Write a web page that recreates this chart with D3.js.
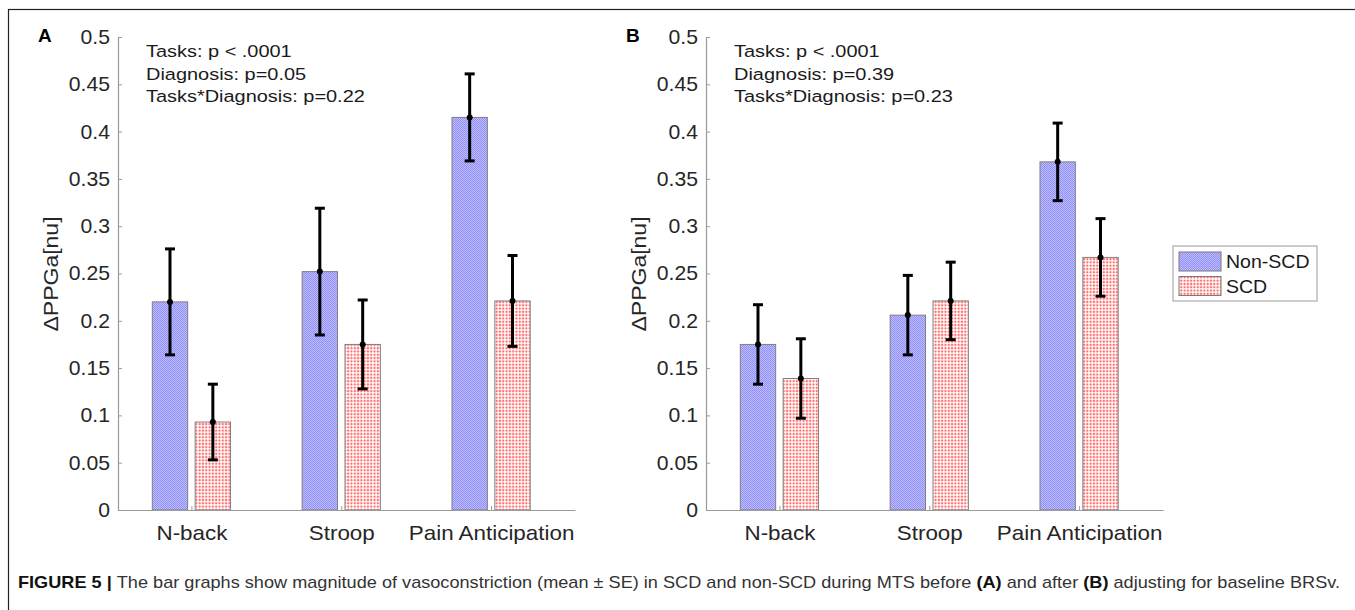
<!DOCTYPE html>
<html>
<head>
<meta charset="utf-8">
<script src="https://cdn.jsdelivr.net/npm/d3@7"></script>
<style>
  body { margin: 0; background: #fff; }
  svg { display: block; font-family: "Liberation Sans", Arial, Helvetica, sans-serif; }
</style>
</head>
<body>
<script>
const tasks = ["N-back", "Stroop", "Pain Anticipation"];
const groups = ["Non-SCD", "SCD"];

// panel A: before adjusting for baseline BRSv
const meanA_nonSCD = [0.220, 0.252, 0.415];
const seA_nonSCD = [0.056, 0.067, 0.046];
const meanA_SCD = [0.093, 0.175, 0.221];
const seA_SCD = [0.040, 0.047, 0.048];

// panel B: after adjusting
const meanB_nonSCD = [0.175, 0.206, 0.368];
const seB_nonSCD = [0.042, 0.042, 0.041];
const meanB_SCD = [0.139, 0.221, 0.267];
const seB_SCD = [0.042, 0.041, 0.041];

const yTicks = [0, 0.05, 0.1, 0.15, 0.2, 0.25, 0.3, 0.35, 0.4, 0.45, 0.5];
const yTickLabels = ["0", "0.05", "0.1", "0.15", "0.2", "0.25", "0.3", "0.35", "0.4", "0.45", "0.5"];

const statsA = ["Tasks: p < .0001", "Diagnosis: p=0.05", "Tasks*Diagnosis: p=0.22"];
const statsB = ["Tasks: p < .0001", "Diagnosis: p=0.39", "Tasks*Diagnosis: p=0.23"];

const width = 1355;
const height = 610;
const yTop = 37;
const yBottom = 510;
const axisLen = 457;
const shiftB = 588;

const svg = d3.select("body")
  .append("svg")
  .attr("width", width)
  .attr("height", height)
  .attr("viewBox", [0, 0, width, height]);

// hatch fills
const defs = svg.append("defs");
const blue = defs.append("pattern")
  .attr("id", "blueFill")
  .attr("patternUnits", "userSpaceOnUse")
  .attr("width", 2).attr("height", 2);
blue.append("rect").attr("width", 2).attr("height", 2).attr("fill", "#bcbcff");
blue.append("rect").attr("width", 1).attr("height", 1).attr("fill", "#9090f6");
blue.append("rect").attr("x", 1).attr("y", 1).attr("width", 1).attr("height", 1).attr("fill", "#9090f6");

const red = defs.append("pattern")
  .attr("id", "redFill")
  .attr("patternUnits", "userSpaceOnUse")
  .attr("width", 3.3).attr("height", 3.3);
red.append("rect").attr("width", 3.3).attr("height", 3.3).attr("fill", "#ffffff");
red.append("rect").attr("x", 1).attr("width", 1.3).attr("height", 3.3).attr("fill", "#ffcccc");
red.append("rect").attr("y", 1).attr("width", 3.3).attr("height", 1.3).attr("fill", "#ffcccc");
red.append("rect").attr("x", 1).attr("y", 1).attr("width", 1.3).attr("height", 1.3).attr("fill", "#ff3030");

const fills = ["url(#blueFill)", "url(#redFill)"];

// outer frame of the figure
svg.append("rect")
  .attr("x", 8.5).attr("y", 9.5)
  .attr("width", 1400).attr("height", 700)
  .attr("fill", "none")
  .attr("stroke", "#222")
  .attr("stroke-width", 1.2);

function stretch(sel, sx) {
  sel.attr("transform", function () {
    const x = +this.getAttribute("x") || 0;
    const y = +this.getAttribute("y") || 0;
    return `translate(${x},${y}) scale(${sx},1) translate(${-x},${-y})`;
  });
}

function drawPanel(left, letter, stats, means, ses) {
  const g = svg.append("g");

  const xScale = d3.scaleLinear([0.51, 3.56], [left, left + axisLen]);
  const yScale = d3.scaleLinear([0, 0.5], [yBottom, yTop]);

  const offsets = [-0.143, 0.143];
  const barW = 0.236;

  const rows = [];
  groups.forEach((grp, j) => {
    tasks.forEach((t, i) => {
      rows.push({ i, j, mean: means[j][i], se: ses[j][i] });
    });
  });

  g.append("g")
    .selectAll("rect")
    .data(rows)
    .join("rect")
    .attr("x", d => xScale(d.i + 1 + offsets[d.j] - barW / 2))
    .attr("y", d => yScale(d.mean))
    .attr("width", xScale(barW) - xScale(0))
    .attr("height", d => yScale(0) - yScale(d.mean))
    .attr("fill", d => fills[d.j])
    .attr("stroke", "#808080")
    .attr("stroke-width", 1);

  // axes
  const yAxis = d3.axisLeft(yScale)
    .tickValues(yTicks)
    .tickFormat((v, k) => yTickLabels[k])
    .tickSizeInner(-4)
    .tickSizeOuter(0)
    .tickPadding(8);

  const ya = g.append("g")
    .attr("transform", `translate(${left},0)`)
    .call(yAxis);
  ya.select(".domain").attr("stroke", "#9a9a9a").attr("stroke-width", 1.2);
  ya.selectAll(".tick line").attr("stroke", "#9a9a9a");
  ya.selectAll(".tick text")
    .attr("font-size", 20)
    .attr("font-family", "Liberation Sans, Arial, sans-serif")
    .attr("fill", "#262626")
    .call(stretch, 1.06);

  const xAxis = d3.axisBottom(xScale)
    .tickValues([1, 2, 3])
    .tickFormat(v => tasks[v - 1])
    .tickSizeInner(-4)
    .tickSizeOuter(0)
    .tickPadding(16);

  const xa = g.append("g")
    .attr("transform", `translate(0,${yBottom})`)
    .call(xAxis);
  xa.select(".domain").attr("stroke", "#9a9a9a").attr("stroke-width", 1.2);
  xa.selectAll(".tick line").attr("stroke", "#9a9a9a");
  xa.selectAll(".tick text")
    .attr("font-size", 20)
    .attr("font-family", "Liberation Sans, Arial, sans-serif")
    .attr("fill", "#262626")
    .call(stretch, 1.12);

  // error bars
  const err = g.append("g")
    .attr("stroke", "#000")
    .attr("stroke-width", 3);

  err.selectAll("line.v")
    .data(rows)
    .join("line")
    .attr("class", "v")
    .attr("x1", d => xScale(d.i + 1 + offsets[d.j]))
    .attr("x2", d => xScale(d.i + 1 + offsets[d.j]))
    .attr("y1", d => yScale(d.mean - d.se))
    .attr("y2", d => yScale(d.mean + d.se));

  ["lo", "hi"].forEach((side, s) => {
    err.selectAll("line." + side)
      .data(rows)
      .join("line")
      .attr("class", side)
      .attr("x1", d => xScale(d.i + 1 + offsets[d.j]) - 5)
      .attr("x2", d => xScale(d.i + 1 + offsets[d.j]) + 5)
      .attr("y1", d => yScale(s ? d.mean + d.se : d.mean - d.se))
      .attr("y2", d => yScale(s ? d.mean + d.se : d.mean - d.se));
  });

  g.append("g")
    .selectAll("circle")
    .data(rows)
    .join("circle")
    .attr("cx", d => xScale(d.i + 1 + offsets[d.j]))
    .attr("cy", d => yScale(d.mean))
    .attr("r", 3)
    .attr("fill", "#000");

  // y label
  g.append("text")
    .attr("transform", `translate(${left - 60},274) rotate(-90) scale(1.18,1)`)
    .attr("text-anchor", "middle")
    .attr("font-size", 19.5)
    .attr("fill", "#262626")
    .text("ΔPPGa[nu]");

  // panel letter
  g.append("text")
    .attr("x", left - 80)
    .attr("y", 42)
    .attr("font-size", 19)
    .attr("font-weight", "bold")
    .attr("fill", "#000")
    .text(letter);

  // stats annotation
  g.append("g")
    .selectAll("text")
    .data(stats)
    .join("text")
    .attr("x", left + 28)
    .attr("y", (d, k) => 57.5 + k * 22.5)
    .attr("font-size", 17.2)
    .attr("fill", "#1a1a1a")
    .text(d => d)
    .call(stretch, 1.16);
}

drawPanel(118, "A", statsA, [meanA_nonSCD, meanA_SCD], [seA_nonSCD, seA_SCD]);
drawPanel(118 + shiftB, "B", statsB, [meanB_nonSCD, meanB_SCD], [seB_nonSCD, seB_SCD]);

// legend
const legend = svg.append("g").attr("transform", "translate(1173,246)");
legend.append("rect")
  .attr("width", 144).attr("height", 55)
  .attr("fill", "#fff")
  .attr("stroke", "#9a9a9a")
  .attr("stroke-width", 1);
groups.forEach((grp, j) => {
  legend.append("rect")
    .attr("x", 6).attr("y", 6 + j * 24.5)
    .attr("width", 42).attr("height", 19)
    .attr("fill", fills[j])
    .attr("stroke", "#7a7a7a");
  legend.append("text")
    .attr("x", 53).attr("y", 22.5 + j * 24.5)
    .attr("font-size", 18.6)
    .attr("fill", "#1a1a1a")
    .text(grp)
    .call(stretch, 1.05);
});

// caption
const cap = svg.append("text")
  .attr("x", 18)
  .attr("y", 588)
  .attr("font-size", 17)
  .attr("fill", "#333")
  .attr("textLength", 1322)
  .attr("lengthAdjust", "spacingAndGlyphs");
cap.append("tspan").attr("font-weight", "bold").attr("fill", "#111").text("FIGURE 5 | ");
cap.append("tspan").text("The bar graphs show magnitude of vasoconstriction (mean \u00B1 SE) in SCD and non-SCD during MTS before ");
cap.append("tspan").attr("font-weight", "bold").attr("fill", "#111").text("(A)");
cap.append("tspan").text(" and after ");
cap.append("tspan").attr("font-weight", "bold").attr("fill", "#111").text("(B)");
cap.append("tspan").text(" adjusting for baseline BRSv.");
</script>
</body>
</html>
